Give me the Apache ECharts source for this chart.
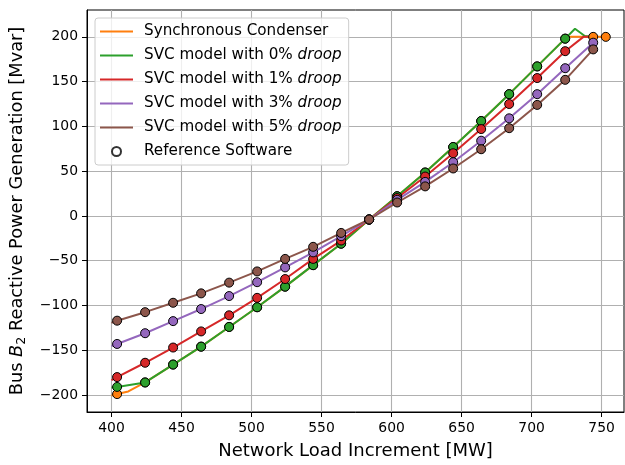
<!DOCTYPE html>
<html>
<head>
<meta charset="utf-8">
<script src="https://cdn.jsdelivr.net/npm/echarts@6/dist/echarts.min.js"></script>
<style>
  html, body { margin: 0; padding: 0; background: #fff; }
  #chart { width: 625px; height: 465px; }
</style>
</head>
<body>
<div id="chart"></div>
<script>
// reference software sample points (MW)
const refX = [404, 424, 444, 464, 484, 504, 524, 544, 564, 584, 604, 624, 644, 664, 684, 704, 724]
const scRefX = refX.concat([744, 753])
const svc3RefX = refX.concat([744])

const scRef = [-199, -186, -166, -146, -124, -102, -79, -55, -31, -4, 22, 48.5, 77, 106, 136, 167, 198, 200, 200]
const svc0Ref = [-191, -186, -166, -146, -124, -102, -79, -55, -31, -4, 22, 48.5, 77, 106, 136, 167, 198]
const svc1Ref = [-180, -164, -147, -129, -111, -91.5, -70.5, -48, -27.5, -4, 20, 44, 70, 97, 125, 154, 184]
const svc3Ref = [-143, -131, -117.5, -104, -89.5, -74, -57.5, -40.7, -22.6, -4, 18, 38, 60, 84, 109, 136, 165, 193.5]
const svc5Ref = [-117, -107.5, -97, -86.5, -74.5, -62, -48, -34.5, -19, -4, 15, 33, 53, 74.5, 98, 124, 152, 186]

// simulated curves
const scLineX = [400, 404, 412, 424, 444, 464, 484, 504, 524, 544, 564, 584, 604, 624, 644, 664, 684, 704, 724, 727, 753]
const scLine = [-200.5, -199, -196, -186, -166, -146, -124, -102, -79, -55, -31, -4, 22, 48.5, 77, 106, 136, 167, 198, 200, 200]
const svc0LineX = [400, 404, 424, 444, 464, 484, 504, 524, 544, 564, 584, 604, 624, 644, 664, 684, 704, 724, 731, 738, 742]
const svc0Line = [-191.5, -191, -186, -166, -146, -124, -102, -79, -55, -31, -4, 22, 48.5, 77, 106, 136, 167, 198, 209, 201, 200]
const svc1LineX = [400, 404, 424, 444, 464, 484, 504, 524, 544, 564, 584, 604, 624, 644, 664, 684, 704, 724, 737, 742]
const svc1Line = [-183.5, -180, -164, -147, -129, -111, -91.5, -70.5, -48, -27.5, -4, 20, 44, 70, 97, 125, 154, 184, 200, 200]
const svc3LineX = [400].concat(svc3RefX)
const svc3Line = [-145.5].concat(svc3Ref)
const svc5LineX = [400].concat(svc3RefX)
const svc5Line = [-119.5].concat(svc5Ref)

const xTicks = [400, 450, 500, 550, 600, 650, 700, 750]
const yTicks = [-200, -150, -100, -50, 0, 50, 100, 150, 200]

const names = [
  'Synchronous Condenser',
  'SVC model with 0% droop',
  'SVC model with 1% droop',
  'SVC model with 3% droop',
  'SVC model with 5% droop'
]
const colors = ['#ff7f0e', '#2ca02c', '#d62728', '#9467bd', '#8c564b']

const FONT = 'DejaVu Sans'
const LEG_FS = 15.2

function pairs (xs, ys) {
  return xs.map((x, i) => [x, ys[i]])
}

function minus (v) {
  return String(v).replace('-', '\u2212')
}

const lines = [
  [scLineX, scLine],
  [svc0LineX, svc0Line],
  [svc1LineX, svc1Line],
  [svc3LineX, svc3Line],
  [svc5LineX, svc5Line]
]
const refs = [
  [scRefX, scRef],
  [refX, svc0Ref],
  [refX, svc1Ref],
  [svc3RefX, svc3Ref],
  [svc3RefX, svc5Ref]
]

let series = []
lines.forEach((l, i) => {
  series.push({
    name: names[i],
    type: 'line',
    data: pairs(l[0], l[1]),
    symbol: 'none',
    lineStyle: { color: colors[i], width: 2 },
    itemStyle: { color: colors[i] },
    z: 2
  })
})
refs.forEach((r, i) => {
  series.push({
    name: 'ref' + i,
    type: 'scatter',
    data: pairs(r[0], r[1]),
    symbol: 'circle',
    symbolSize: 9,
    itemStyle: { color: colors[i], borderColor: '#000', borderWidth: 1, opacity: 1 },
    z: 3 + i
  })
})
// legend only entry
series.push({
  name: 'Reference Software',
  type: 'scatter',
  data: [],
  symbolSize: 9,
  itemStyle: { color: '#fff', borderColor: '#000', borderWidth: 1.3 }
})

const chart = echarts.init(document.getElementById('chart'), null, { renderer: 'canvas' })
chart.setOption({
  animation: false,
  backgroundColor: '#fff',
  grid: {
    left: 87,
    right: 1,
    top: 10,
    bottom: 52,
    show: true,
    borderColor: '#000',
    borderWidth: 1
  },
  legend: {
    data: names.map(n => ({ name: n, icon: 'path://M0,0h33v2h-33z' }))
      .concat([{ name: 'Reference Software', icon: 'circle' }]),
    orient: 'vertical',
    left: 95,
    top: 18,
    padding: [5, 7, 5, 5],
    itemWidth: 33,
    itemHeight: 9,
    itemGap: 7,
    symbolKeepAspect: true,
    backgroundColor: 'rgba(255,255,255,0.8)',
    borderColor: '#cccccc',
    borderWidth: 1,
    borderRadius: 3,
    selectedMode: false,
    textStyle: {
      fontFamily: FONT,
      fontSize: LEG_FS,
      color: '#000',
      lineHeight: 17,
      padding: [0, 0, 0, 6],
      rich: {
        n: { fontFamily: FONT, fontSize: LEG_FS, color: '#000', lineHeight: 17 },
        i: { fontFamily: FONT, fontSize: LEG_FS, color: '#000', lineHeight: 17, fontStyle: 'italic' }
      }
    },
    formatter: function (name) {
      if (name.endsWith('droop')) {
        return '{n|' + name.slice(0, -5) + '}{i|droop}'
      }
      return name
    }
  },
  xAxis: {
    type: 'value',
    min: 382.5,
    max: 766,
    name: 'Network Load Increment [MW]',
    nameLocation: 'middle',
    nameGap: 30,
    nameTextStyle: { fontFamily: FONT, fontSize: 18, color: '#000' },
    axisLine: { show: true, onZero: false, lineStyle: { color: '#000', width: 1 } },
    axisTick: { show: true, length: 5, lineStyle: { color: '#000' }, customValues: xTicks },
    axisLabel: {
      fontFamily: FONT,
      fontSize: 13.9,
      color: '#000',
      margin: 9,
      customValues: xTicks,
      formatter: v => minus(v)
    },
    splitLine: { show: true, lineStyle: { color: '#b0b0b0', width: 1.1 } }
  },
  yAxis: {
    type: 'value',
    min: -219,
    max: 230,
    name: '{n|Bus }{b|B}{s|2}{n| Reactive Power Generation [Mvar]}',
    nameLocation: 'middle',
    nameRotate: 90,
    nameGap: 59,
    nameTextStyle: {
      fontFamily: FONT,
      fontSize: 17.8,
      color: '#000',
      rich: {
        n: { fontFamily: FONT, fontSize: 17.8, color: '#000', lineHeight: 21 },
        b: { fontFamily: FONT, fontSize: 17.8, color: '#000', lineHeight: 21, fontStyle: 'italic' },
        s: { fontFamily: FONT, fontSize: 12.5, color: '#000', lineHeight: 21, verticalAlign: 'bottom', padding: [6, 0, 0, 0] }
      }
    },
    axisLine: { show: true, onZero: false, lineStyle: { color: '#000', width: 1 } },
    axisTick: { show: true, length: 5, lineStyle: { color: '#000' }, customValues: yTicks },
    axisLabel: {
      fontFamily: FONT,
      fontSize: 13.9,
      color: '#000',
      margin: 9,
      customValues: yTicks,
      formatter: v => minus(v)
    },
    splitLine: { show: true, lineStyle: { color: '#b0b0b0', width: 1.1 } }
  },
  series: series
})
</script>
</body>
</html>
